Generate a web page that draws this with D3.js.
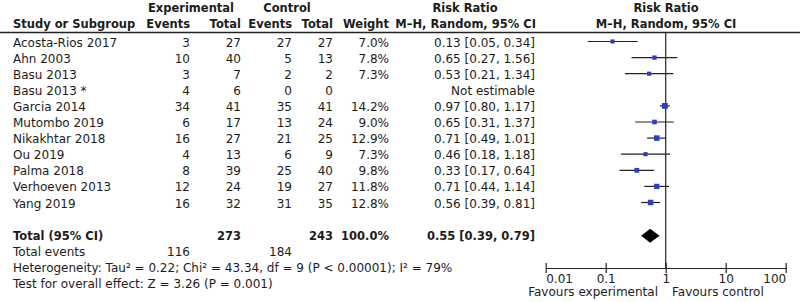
<!DOCTYPE html>
<html>
<head>
<meta charset="utf-8">
<script src="https://cdn.jsdelivr.net/npm/d3@7"></script>
<style>
  body { margin: 0; background: #fff; }
  svg text { font-family: "DejaVu Sans", sans-serif; font-size: 12px; fill: #1c1c1c; }
  svg .bold text { font-weight: bold; font-size: 11.5px; }
</style>
</head>
<body>
<div id="forest"></div>
<script>
const studies = ['Acosta-Rios 2017', 'Ahn 2003', 'Basu 2013', 'Basu 2013 *', 'Garcia 2014',
  'Mutombo 2019', 'Nikakhtar 2018', 'Ou 2019', 'Palma 2018', 'Verhoeven 2013', 'Yang 2019'];
const expEvents = [3, 10, 3, 4, 34, 6, 16, 4, 8, 12, 16];
const expTotal = [27, 40, 7, 6, 41, 17, 27, 13, 39, 24, 32];
const ctrlEvents = [27, 5, 2, 0, 35, 13, 21, 6, 25, 19, 31];
const ctrlTotal = [27, 13, 2, 0, 41, 24, 25, 9, 40, 27, 35];
const weights = [7.0, 7.8, 7.3, null, 14.2, 9.0, 12.9, 7.3, 9.8, 11.8, 12.8];
const rr = [0.13, 0.65, 0.53, null, 0.97, 0.65, 0.71, 0.46, 0.33, 0.71, 0.56];
const lo = [0.05, 0.27, 0.21, null, 0.80, 0.31, 0.49, 0.18, 0.17, 0.44, 0.39];
const hi = [0.34, 1.56, 1.34, null, 1.17, 1.37, 1.01, 1.18, 0.64, 1.14, 0.81];

const total = { exp: 273, ctrl: 243, weight: '100.0%', rr: 0.55, lo: 0.39, hi: 0.79 };
const totalEvents = { exp: 116, ctrl: 184 };
const axisTicks = [0.01, 0.1, 1, 10, 100];
const footLines = [
  'Heterogeneity: Tau\u00b2 = 0.22; Chi\u00b2 = 43.34, df = 9 (P < 0.00001); I\u00b2 = 79%',
  'Test for overall effect: Z = 3.26 (P = 0.001)',
];

const width = 800;
const height = 302;

const svg = d3.select('#forest')
  .append('svg')
  .attr('width', width)
  .attr('height', height);

// row positions
const rowY = d3.scaleLinear().domain([0, 1]).range([42.5, 58.6]);
const totalRow = studies.length + 1;

// columns (right edges unless noted)
const col = {
  name: 13, expEv: 190, expTot: 241, ctrlEv: 292, ctrlTot: 333, weight: 389, rr: 535,
};

const x = d3.scaleLog().domain([0.01, 100]).range([545.7, 785.7]);
const axisY = 268;

const fmt = d3.format('.2f');
const rrText = (i) => (rr[i] == null ? 'Not estimable'
  : `${fmt(rr[i])} [${fmt(lo[i])}, ${fmt(hi[i])}]`);

// header
const header = svg.append('g').attr('class', 'bold');
header.append('text').attr('x', 191).attr('y', 12).attr('text-anchor', 'middle').text('Experimental');
header.append('text').attr('x', 287).attr('y', 12).attr('text-anchor', 'middle').text('Control');
header.append('text').attr('x', 465).attr('y', 12).attr('text-anchor', 'middle').text('Risk Ratio');
header.append('text').attr('x', 666).attr('y', 12).attr('text-anchor', 'middle').text('Risk Ratio');
header.append('text').attr('x', col.name).attr('y', 28).text('Study or Subgroup');
[['Events', col.expEv], ['Total', col.expTot], ['Events', col.ctrlEv], ['Total', col.ctrlTot],
  ['Weight', col.weight], ['M\u2013H, Random, 95% CI', col.rr + 1]].forEach(([t, cx]) => {
  header.append('text').attr('x', cx).attr('y', 28).attr('text-anchor', 'end').text(t);
});
header.append('text').attr('x', 666).attr('y', 28).attr('text-anchor', 'middle').text('M\u2013H, Random, 95% CI');

svg.append('line')
  .attr('x1', 0).attr('x2', width)
  .attr('y1', 32.5).attr('y2', 32.5)
  .attr('stroke', '#222').attr('stroke-width', 1.3);

// study rows
const rows = svg.append('g')
  .selectAll('g')
  .data(studies)
  .join('g')
  .attr('transform', (d, i) => `translate(0, ${rowY(i) + 4})`);

rows.append('text').attr('x', col.name).text((d) => d);
const cells = [[expEvents, col.expEv], [expTotal, col.expTot], [ctrlEvents, col.ctrlEv],
  [ctrlTotal, col.ctrlTot]];
cells.forEach(([arr, cx]) => {
  rows.append('text').attr('x', cx).attr('text-anchor', 'end').text((d, i) => arr[i]);
});
rows.append('text').attr('x', col.weight).attr('text-anchor', 'end')
  .text((d, i) => (weights[i] == null ? '' : `${weights[i].toFixed(1)}%`));
rows.append('text').attr('x', col.rr).attr('text-anchor', 'end').text((d, i) => rrText(i));

// total row
const tg = svg.append('g').attr('class', 'bold')
  .attr('transform', `translate(0, ${rowY(totalRow) + 4})`);
tg.append('text').attr('x', col.name).text('Total (95% CI)');
tg.append('text').attr('x', col.expTot).attr('text-anchor', 'end').text(total.exp);
tg.append('text').attr('x', col.ctrlTot).attr('text-anchor', 'end').text(total.ctrl);
tg.append('text').attr('x', col.weight).attr('text-anchor', 'end').text(total.weight);
tg.append('text').attr('x', col.rr).attr('text-anchor', 'end')
  .text(`${fmt(total.rr)} [${fmt(total.lo)}, ${fmt(total.hi)}]`);

const te = svg.append('g').attr('transform', `translate(0, ${rowY(totalRow + 1) + 4})`);
te.append('text').attr('x', col.name).text('Total events');
te.append('text').attr('x', col.expEv).attr('text-anchor', 'end').text(totalEvents.exp);
te.append('text').attr('x', col.ctrlEv).attr('text-anchor', 'end').text(totalEvents.ctrl);

svg.append('g')
  .selectAll('text')
  .data(footLines)
  .join('text')
  .attr('x', col.name)
  .attr('y', (d, i) => rowY(totalRow + 2 + i) + 4)
  .text((d) => d);

// forest plot
svg.append('line')
  .attr('x1', x(1)).attr('x2', x(1))
  .attr('y1', 32.5).attr('y2', axisY)
  .attr('stroke', '#222').attr('stroke-width', 1.2);

const est = d3.range(studies.length).filter((i) => rr[i] != null);
const size = d3.scaleSqrt().domain([0, 14.2]).range([0, 5.8]);

svg.append('g')
  .selectAll('line')
  .data(est)
  .join('line')
  .attr('x1', (i) => x(lo[i]))
  .attr('x2', (i) => x(hi[i]))
  .attr('y1', (i) => rowY(i) - 1)
  .attr('y2', (i) => rowY(i) - 1)
  .attr('stroke', '#222')
  .attr('stroke-width', 1.2);

svg.append('g')
  .selectAll('rect')
  .data(est)
  .join('rect')
  .attr('x', (i) => x(rr[i]) - size(weights[i]) / 2)
  .attr('y', (i) => rowY(i) - 1 - size(weights[i]) / 2)
  .attr('width', (i) => size(weights[i]))
  .attr('height', (i) => size(weights[i]))
  .attr('fill', '#2d3fbf');

const dy = rowY(totalRow);
svg.append('path')
  .attr('d', `M${x(total.lo)},${dy} L${x(total.rr)},${dy - 7} L${x(total.hi)},${dy} L${x(total.rr)},${dy + 7} Z`)
  .attr('fill', '#000');

// axis
const axis = svg.append('g')
  .attr('transform', `translate(0, ${axisY})`)
  .call(d3.axisBottom(x).tickValues(axisTicks).tickFormat((d) => String(d)).tickSizeOuter(0));
axis.attr('font-size', null).attr('font-family', null);
axis.select('.domain').attr('stroke', '#222').attr('stroke-width', 1.2);
axis.selectAll('.tick line').attr('y1', -5).attr('y2', 5).attr('stroke', '#222').attr('stroke-width', 1.2);
axis.selectAll('.tick text')
  .attr('y', 15)
  .attr('dy', 0)
  .attr('text-anchor', (d, i) => (i === 0 ? 'start' : (i === axisTicks.length - 1 ? 'end' : 'middle')));

svg.append('text').attr('x', 658).attr('y', 296).attr('text-anchor', 'end').text('Favours experimental');
svg.append('text').attr('x', 672).attr('y', 296).text('Favours control');
</script>
</body>
</html>
